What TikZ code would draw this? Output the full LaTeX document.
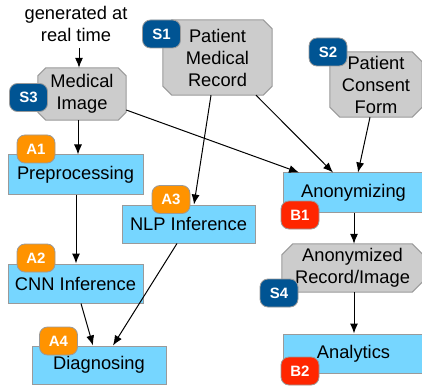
\documentclass[tikz,border=0pt]{standalone}
\usepackage{fontspec}
\setmainfont{Liberation Sans}
\usetikzlibrary{arrows.meta}

\definecolor{boxgray}{HTML}{CCCCCC}
\definecolor{edgegray}{HTML}{9A9A9A}
\definecolor{sky}{HTML}{76D6FF}
\definecolor{ocean}{HTML}{005493}
\definecolor{tangerine}{HTML}{FF9300}
\definecolor{cherry}{HTML}{FF2600}

\pgfdeclarelayer{shapes}
\pgfsetlayers{shapes,main}

\tikzset{
  base/.style={font=\fontsize{18.3}{22}\selectfont, align=center, inner sep=0pt},
  datanode/.style={base, rectangle},
  datashape/.style={fill=boxgray, draw=edgegray, line width=1pt},
  stepbox/.style={base, rectangle, fill=sky, draw=edgegray, line width=1pt},
  badge/.style={rectangle, rounded corners=8pt, draw=edgegray, line width=0.8pt,
    text=white, font=\fontsize{15}{17}\selectfont\bfseries,
    minimum width=38pt, minimum height=28pt, inner sep=0pt},
  srcbadge/.style={badge, fill=ocean},
  appbadge/.style={badge, fill=tangerine},
  anonbadge/.style={badge, fill=cherry},
  arr/.style={-{Latex[length=10pt,width=8pt]}, line width=1pt, black},
}

% octagonal outline around a data node, cut by #2 at each corner
\newcommand\chamferbox[2]{%
  \path[datashape]
    ([xshift=#2]#1.north west) -- ([xshift=-#2]#1.north east)
    -- ([yshift=-#2]#1.north east) -- ([yshift=#2]#1.south east)
    -- ([xshift=-#2]#1.south east) -- ([xshift=#2]#1.south west)
    -- ([yshift=#2]#1.south west) -- ([yshift=-#2]#1.north west) -- cycle;}

\begin{document}
\begin{tikzpicture}[x=1pt, y=-1pt]
  \useasboundingbox (0,0) rectangle (422,387);
  \clip (0,0) rectangle (422,387);

  % caption above the image source
  \node[base] (gen) at (76,24) {generated at\\real time};

  % data sources
  \node[datanode, minimum width=88pt, minimum height=52pt] (mi) at (82,94) {Medical\\Image};
  \node[datanode, minimum width=109pt, minimum height=75pt] (pmr) at (217.5,57.5) {Patient\\Medical\\Record};
  \node[datanode, minimum width=92pt, minimum height=65pt] (pcf) at (376,84.5) {Patient\\Consent\\Form};
  \node[datanode, minimum width=141pt, minimum height=48pt] (ari) at (352.5,268) {Anonymized\\Record/Image};
  \begin{pgfonlayer}{shapes}
    \chamferbox{mi}{8pt}
    \chamferbox{pmr}{9pt}
    \chamferbox{pcf}{10pt}
    \chamferbox{ari}{11pt}
  \end{pgfonlayer}

  % processing steps
  \node[stepbox, minimum width=135pt, minimum height=39pt] (pre) at (75.5,174.5) {Preprocessing};
  \node[stepbox, minimum width=135pt, minimum height=39pt] (cnn) at (75.5,283.5) {CNN Inference};
  \node[stepbox, minimum width=133pt, minimum height=38pt] (nlp) at (188.5,224) {NLP Inference};
  \node[stepbox, minimum width=134pt, minimum height=38pt] (diag) at (99,365) {Diagnosing};
  \node[stepbox, minimum width=141pt, minimum height=39pt] (anon) at (353.5,192.5) {Anonymizing};
  \node[stepbox, minimum width=141pt, minimum height=39pt] (ana) at (353.5,353.5) {Analytics};

  % badges
  \node[srcbadge] (s1) at (161.5,34) {S1};
  \node[srcbadge] (s2) at (328,52) {S2};
  \node[srcbadge] (s3) at (28.5,97.5) {S3};
  \node[srcbadge] (s4) at (279,293) {S4};
  \node[appbadge] (a1) at (36,149) {A1};
  \node[appbadge] (a2) at (36,258) {A2};
  \node[appbadge] (a3) at (171,199.5) {A3};
  \node[appbadge] (a4) at (58.5,341) {A4};
  \node[anonbadge] (b1) at (300,215) {B1};
  \node[anonbadge] (b2) at (300,371) {B2};

  % connectors
  \draw[arr] ([xshift=3pt,yshift=-6pt]gen.south) -- ([xshift=-3pt]mi.north);
  \draw[arr] ([xshift=-4pt]mi.south) -- ([xshift=2.5pt]pre.north);
  \draw[arr] ([xshift=0.5pt]pre.south) -- ([xshift=0.5pt]cnn.north);
  \draw[arr] ([xshift=5.5pt]cnn.south) -- ([xshift=-6pt]diag.north);
  \draw[arr] ([xshift=-11.5pt]nlp.south) -- ([xshift=14pt]diag.north);
  \draw[arr] ([xshift=-6.5pt]pmr.south) -- ([xshift=5.5pt]nlp.north);
  \draw[arr] ([yshift=-16pt]mi.east) -- ([xshift=-54.5pt]anon.north);
  \draw[arr] ([xshift=38.5pt]pmr.south) -- ([xshift=-20.5pt]anon.north);
  \draw[arr] ([xshift=-6pt]pcf.south) -- ([xshift=4.5pt]anon.north);
  \draw[arr] ([xshift=0.5pt]anon.south) -- ([xshift=1.5pt]ari.north);
  \draw[arr] ([xshift=1.5pt]ari.south) -- ([xshift=0.5pt]ana.north);
\end{tikzpicture}
\end{document}
